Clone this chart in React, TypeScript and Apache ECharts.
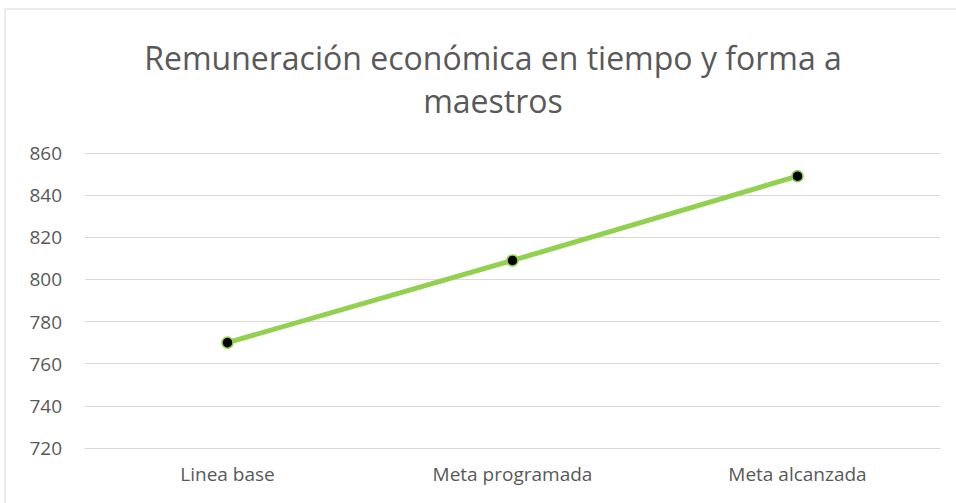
import React, { useEffect, useRef } from "react";
import * as echarts from "echarts";

const categories = ["Linea base", "Meta programada", "Meta alcanzada"];
const values = [770, 809, 849];
const titleLines = ["Remuneración económica en tiempo y forma a", "maestros"];
const yMin = 720;
const yMax = 860;
const yStep = 20;

export default function App() {
  const ref = useRef<HTMLDivElement>(null);
  useEffect(() => {
    if (!ref.current) return;
    const chart = echarts.init(ref.current, undefined, { renderer: "svg" });
    const font = "'Open Sans', 'Noto Sans', sans-serif";
    chart.setOption({
      animation: false,
      backgroundColor: "#ffffff",
      title: {
        text: titleLines.join("\n"),
        left: 488,
        textAlign: "center",
        top: 31,
        textStyle: {
          fontFamily: font,
          fontSize: 32,
          fontWeight: "normal",
          color: "#595959",
          lineHeight: 43,
        },
      },
      graphic: [
        {
          type: "rect",
          shape: { x: 5, y: 9, width: 1000, height: 600 },
          style: { fill: "none", stroke: "#d9d9d9", lineWidth: 1 },
          silent: true,
          z: -1,
        },
      ],
      grid: { left: 85, right: 16, top: 153, bottom: 55, containLabel: false },
      xAxis: {
        type: "category",
        data: categories,
        boundaryGap: true,
        axisLine: { show: true, lineStyle: { color: "#d9d9d9", width: 1 } },
        axisTick: { show: false },
        axisLabel: {
          fontFamily: font,
          fontSize: 19,
          color: "#595959",
          margin: 16,
        },
      },
      yAxis: {
        type: "value",
        min: yMin,
        max: yMax,
        interval: yStep,
        axisLine: { show: false },
        axisTick: { show: false },
        splitLine: { lineStyle: { color: "#d9d9d9", width: 1 } },
        axisLabel: {
          fontFamily: font,
          fontSize: 19,
          color: "#595959",
          margin: 23,
        },
      },
      series: [
        {
          type: "line",
          data: values,
          lineStyle: { color: "#92d050", width: 5 },
          itemStyle: { color: "#000000", borderColor: "#92d050", borderWidth: 1.5 },
          symbol: "circle",
          symbolSize: 11,
        },
      ],
    });
    return () => chart.dispose();
  }, []);
  return (
    <div
      ref={ref}
      style={{ position: "absolute", left: 0, top: 0, width: 956, height: 503 }}
    />
  );
}
